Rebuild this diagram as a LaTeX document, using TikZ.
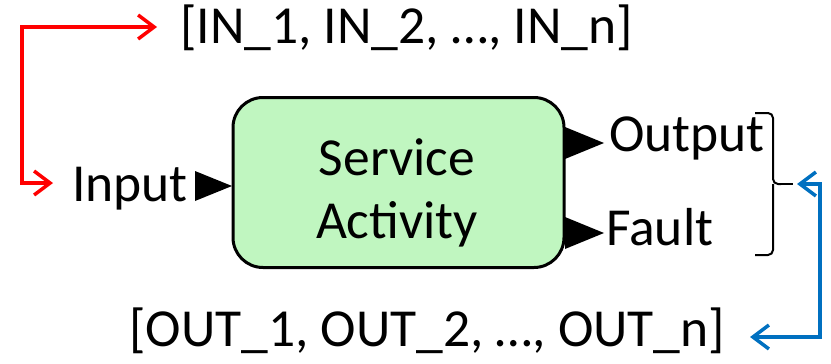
\documentclass[tikz,border=0pt]{standalone}
\usepackage{fontspec}
\setmainfont{Carlito}
\usetikzlibrary{arrows.meta}
\definecolor{boxgreen}{RGB}{192,246,192}
\definecolor{outblue}{RGB}{0,112,192}
\begin{document}
\begin{tikzpicture}[x=1pt,y=-1pt,
  lbl/.style={inner sep=0pt,anchor=base west,font=\fontsize{53.5}{64}\selectfont},
  port/.style={fill=black,draw=none},
  conn/.style={line width=3.5pt,{Straight Barb[length=16pt,width=24pt,line width=3.5pt]}-{Straight Barb[length=16pt,width=24pt,line width=3.5pt]}}]
\useasboundingbox (0,0) rectangle (831,364);
% main box
\node[draw=black,line width=3pt,fill=boxgreen,rounded corners=30pt,minimum width=331pt,minimum height=170pt,inner sep=0pt] (box) at (398.5,182.5) {};
\node[inner sep=0pt,anchor=base,font=\fontsize{53.5}{64}\selectfont] (svc) at (397,175) {Service};
\node[inner sep=0pt,anchor=base,font=\fontsize{53.5}{64}\selectfont] (act) at (397,238) {Activity};
% ports
\fill[port] (195,171) -- (232,186) -- (195,201) -- cycle;
\fill[port] (565,127) -- (604,143) -- (565,159) -- cycle;
\fill[port] (565,217) -- (604,233) -- (565,249) -- cycle;
% labels
\node[lbl] (in) at (72,201) {Input};
\node[lbl] (out) at (609,151) {Output};
\node[lbl] (flt) at (606,245) {Fault};
\node[lbl] (inlist) at (180,43) {[IN\_1, IN\_2, …, IN\_n]};
\node[lbl] (outlist) at (129,346) {[OUT\_1, OUT\_2, …, OUT\_n]};
% bracket
\draw[line width=2pt,rounded corners=5pt] (755,113) -- (773,113) -- (773,184) -- (781,184);
\draw[line width=2pt,rounded corners=5pt] (755,255) -- (773,255) -- (773,184);
\draw[line width=2pt] (780,184) -- (793,184);
% connectors
\coordinate (rt) at (157,27);
\coordinate (rb) at (53,183);
\draw[conn,red] (rt) -- (22,27) |- (rb);
\coordinate (bt) at (797,184);
\coordinate (bb) at (750,337);
\draw[conn,outblue] (bt) -- (820,184) |- (bb);
\end{tikzpicture}
\end{document}
